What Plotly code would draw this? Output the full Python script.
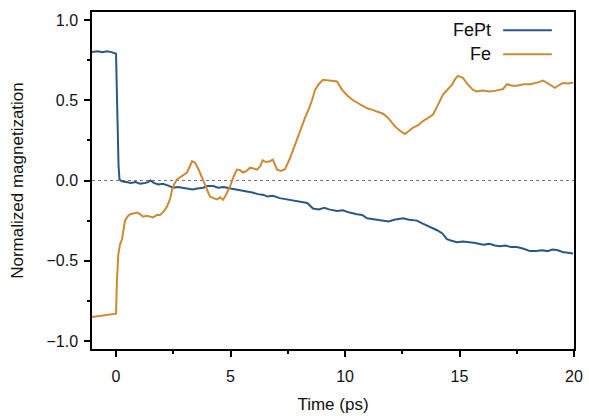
import plotly.graph_objects as go

# ---- data ----
fept_t = [-1.05, -0.8, -0.6, -0.4, -0.2, -0.05, 0.0, 0.044, 0.08, 0.11, 0.15, 0.25,
          0.45, 0.65, 0.85, 1.05, 1.25, 1.4, 1.5, 1.65, 1.85, 2.05, 2.25, 2.5, 2.7,
          2.9, 3.1, 3.35, 3.55, 3.8, 4.0, 4.25, 4.45, 4.7, 5.0, 5.2, 5.45, 5.7, 5.95,
          6.2, 6.45, 6.6, 6.85, 7.15, 7.4, 7.65, 7.9, 8.17, 8.35, 8.6, 8.85, 9.1,
          9.3, 9.65, 9.9, 10.2, 10.52, 10.75, 10.96, 11.2, 11.45, 11.66, 11.9, 12.15,
          12.35, 12.53, 12.8, 13.14, 13.35, 13.58, 13.8, 14.02, 14.25, 14.45, 14.65,
          14.89, 15.15, 15.46, 15.7, 16.03, 16.3, 16.55, 16.77, 17.0, 17.25, 17.51,
          17.8, 18.08, 18.35, 18.6, 18.85, 19.05, 19.26, 19.5, 19.75, 19.96]
fept_m = [0.80, 0.805, 0.80, 0.805, 0.80, 0.795, 0.79, 0.50, 0.25, 0.09, 0.006, -0.005,
          -0.01, -0.015, -0.01, -0.02, -0.015, -0.01, 0.0, -0.015, -0.025, -0.02, -0.03, -0.045, -0.04,
          -0.045, -0.05, -0.056, -0.05, -0.045, -0.035, -0.035, -0.045, -0.04, -0.05, -0.055, -0.06, -0.07, -0.075,
          -0.085, -0.09, -0.10, -0.095, -0.11, -0.115, -0.12, -0.125, -0.135, -0.14, -0.175, -0.18, -0.17,
          -0.18, -0.19, -0.185, -0.20, -0.21, -0.215, -0.235, -0.24, -0.245, -0.25, -0.255, -0.245,
          -0.24, -0.235, -0.245, -0.25, -0.265, -0.28, -0.295, -0.31, -0.33, -0.366, -0.375,
          -0.385, -0.38, -0.385, -0.39, -0.40, -0.395, -0.405, -0.41, -0.405, -0.415, -0.415,
          -0.425, -0.44, -0.44, -0.435, -0.44, -0.43, -0.433, -0.445, -0.45, -0.455]

fe_t = [-1.05, -0.8, -0.55, -0.3, -0.1, 0.0, 0.04, 0.1, 0.17, 0.26, 0.39, 0.5, 0.61,
        0.74, 0.92, 1.05, 1.18, 1.35, 1.5, 1.62, 1.79, 1.92, 2.0, 2.1, 2.23, 2.35,
        2.45, 2.55, 2.66, 2.8, 2.93, 3.1, 3.32, 3.45, 3.6, 3.8, 3.95, 4.1, 4.25,
        4.41, 4.55, 4.67, 4.8, 4.98, 5.15, 5.28, 5.4, 5.55, 5.7, 5.85, 6.0, 6.16,
        6.3, 6.4, 6.55, 6.72, 6.85, 7.03, 7.2, 7.38, 7.6, 7.8, 8.03, 8.25, 8.4,
        8.56, 8.69, 8.85, 9.04, 9.25, 9.45, 9.65, 9.87, 10.1, 10.35, 10.6, 10.8,
        10.96, 11.2, 11.45, 11.66, 11.88, 12.0, 12.18, 12.4, 12.62, 12.8, 12.97,
        13.2, 13.4, 13.58, 13.84, 14.05, 14.28, 14.5, 14.67, 14.8, 14.93, 15.15,
        15.35, 15.59, 15.76, 16.0, 16.33, 16.6, 16.9, 17.07, 17.3, 17.51, 17.8,
        18.08, 18.4, 18.65, 18.9, 19.17, 19.35, 19.52, 19.75, 19.96]
fe_m = [-0.85, -0.845, -0.84, -0.835, -0.832, -0.83, -0.62, -0.46, -0.40, -0.366, -0.25, -0.225, -0.21,
        -0.205, -0.20, -0.21, -0.225, -0.22, -0.225, -0.23, -0.215, -0.215, -0.205, -0.19, -0.16, -0.12,
        -0.056, -0.02, 0.006, 0.02, 0.03, 0.05, 0.12, 0.11, 0.07, 0.006, -0.05, -0.10, -0.11,
        -0.118, -0.105, -0.12, -0.09, -0.035, 0.03, 0.068, 0.065, 0.05, 0.06, 0.08, 0.075, 0.068,
        0.09, 0.126, 0.115, 0.12, 0.13, 0.068, 0.06, 0.07, 0.14, 0.22, 0.30, 0.39, 0.44,
        0.50, 0.565, 0.60, 0.627, 0.625, 0.62, 0.617, 0.565, 0.53, 0.50, 0.48, 0.465,
        0.45, 0.44, 0.425, 0.416, 0.39, 0.37, 0.337, 0.31, 0.29, 0.31, 0.33,
        0.345, 0.37, 0.385, 0.41, 0.47, 0.535, 0.57, 0.596, 0.63, 0.652, 0.64,
        0.60, 0.565, 0.555, 0.56, 0.555, 0.56, 0.57, 0.60, 0.59, 0.59, 0.60,
        0.60, 0.61, 0.623, 0.60, 0.578, 0.595, 0.608, 0.605, 0.61]

series_names = ["FePt", "Fe"]
series_colors = ["#2a5885", "#cc8a34"]

x_ticks = [0, 5, 10, 15, 20]
x_minor = [2.5, 7.5, 12.5, 17.5]
y_ticks = [-1.0, -0.5, 0.0, 0.5, 1.0]
y_minor = [-0.75, -0.25, 0.25, 0.75]

FONT = "Liberation Sans, Arial, sans-serif"

fig = go.Figure()
for name, t, m, c in [(series_names[0], fept_t, fept_m, series_colors[0]),
                      (series_names[1], fe_t, fe_m, series_colors[1])]:
    fig.add_trace(go.Scatter(x=t, y=m, mode="lines", name=name,
                             line=dict(color=c, width=2), showlegend=False))

# zero reference line
fig.add_shape(type="line", xref="paper", x0=0, x1=1, yref="y", y0=0, y1=0,
              line=dict(color="#777777", width=1, dash="dot"), layer="below")

# legend drawn manually (text left, sample line right)
leg_y = [0.946, 0.875]
for name, c, yy in zip(series_names, series_colors, leg_y):
    fig.add_annotation(xref="paper", yref="paper", x=0.832, y=yy, text=name,
                       showarrow=False, xanchor="right", yanchor="middle",
                       font=dict(size=18, color="#111111", family=FONT))
    fig.add_shape(type="line", xref="paper", yref="paper", x0=0.853, x1=0.954,
                  y0=yy, y1=yy, line=dict(color=c, width=2))

axis_common = dict(showgrid=False, zeroline=False, showline=True, linecolor="black",
                   linewidth=1.5, mirror=True, ticks="outside", ticklen=6, tickwidth=1.5,
                   tickcolor="black", automargin=False,
                   tickfont=dict(size=16, family=FONT, color="#111111"))

fig.update_layout(
    width=589, height=416,
    margin=dict(l=92, r=15, t=12, b=67),
    paper_bgcolor="white", plot_bgcolor="white",
    font=dict(family=FONT, size=16, color="#111111"),
    xaxis=dict(range=[-1.05, 20], tickvals=x_ticks, ticklabelstandoff=6,
               minor=dict(tickvals=x_minor, ticks="outside", ticklen=3, tickwidth=1.5, tickcolor="black"),
               title=dict(text="Time (ps)", standoff=14, font=dict(size=17)), **axis_common),
    yaxis=dict(range=[-1.05, 1.05], tickvals=y_ticks, tickformat=".1f", ticklabelstandoff=3,
               minor=dict(tickvals=y_minor, ticks="outside", ticklen=3, tickwidth=1.5, tickcolor="black"),
               title=dict(text="Normalized magnetization", standoff=19, font=dict(size=17)), **axis_common),
)

fig.write_html("out.html", config={"displayModeBar": False})
with open("out.html", "r", encoding="utf-8") as f:
    html = f.read()
html = html.replace("<body>", '<body style="margin:0;padding:0;">', 1)
with open("out.html", "w", encoding="utf-8") as f:
    f.write(html)
